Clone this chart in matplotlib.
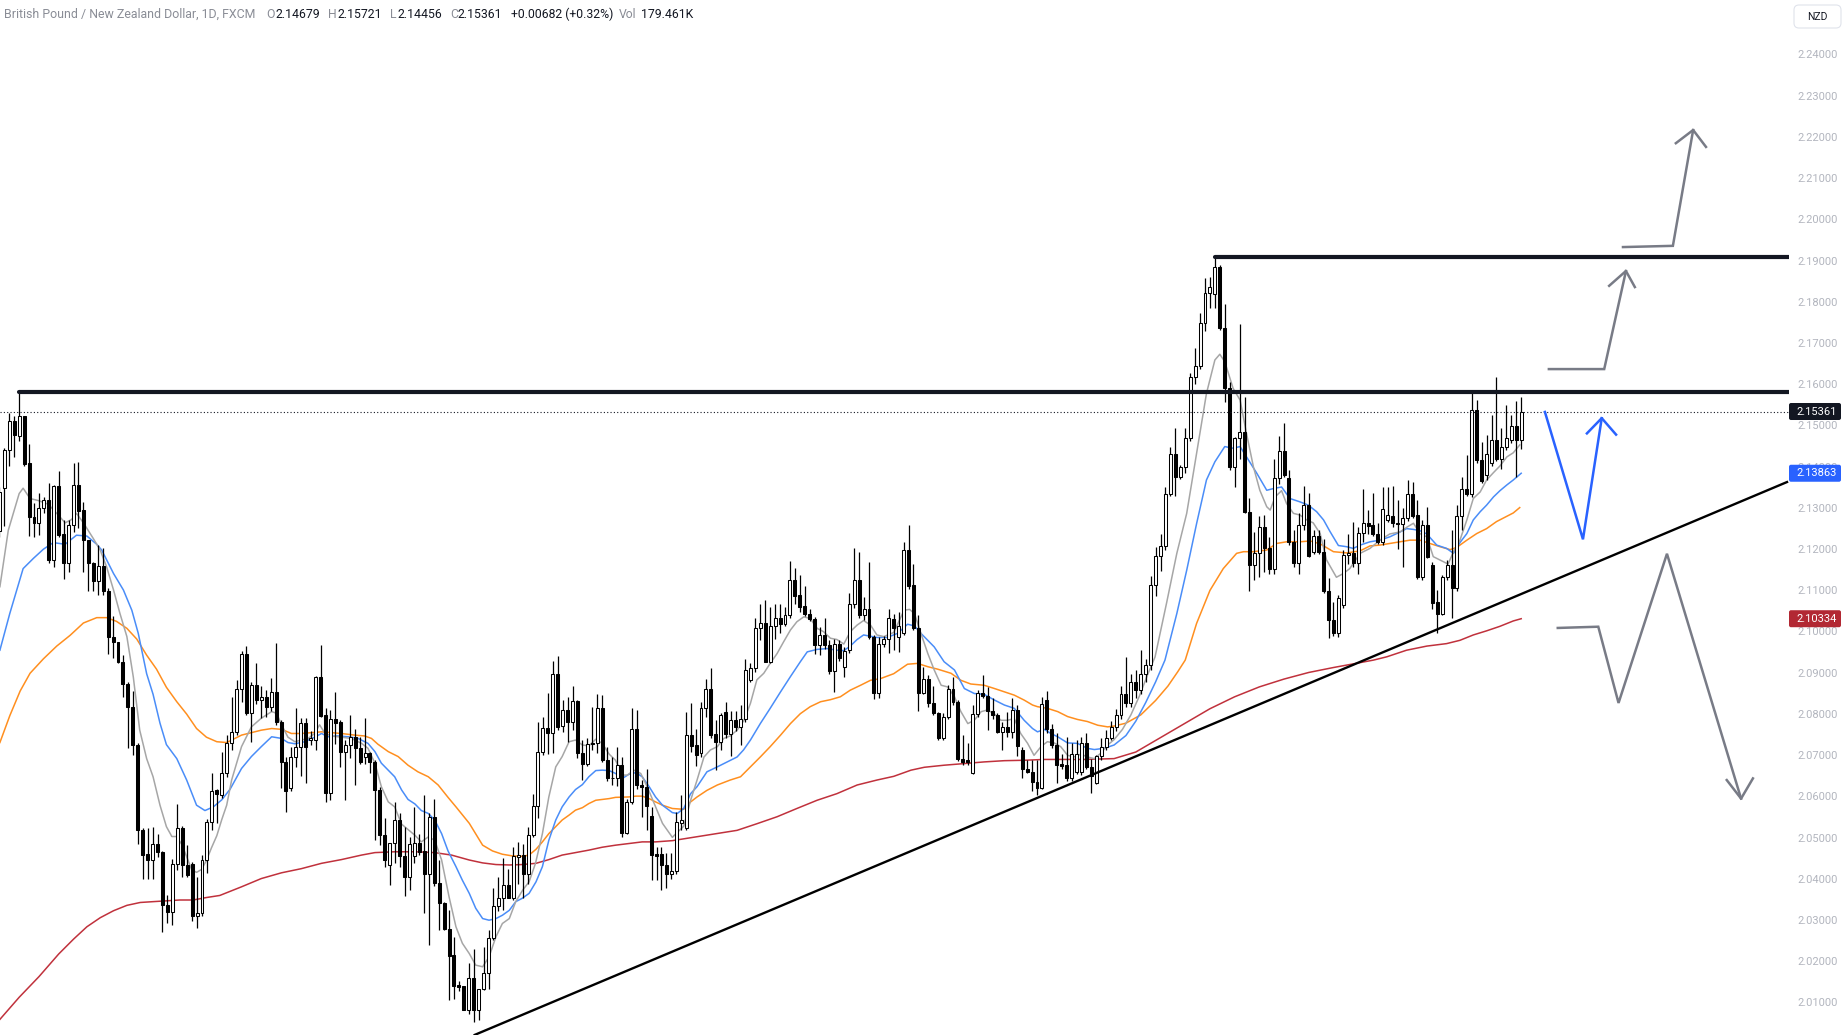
import numpy as np
import matplotlib
matplotlib.use("Agg")
import matplotlib.pyplot as plt
from matplotlib.patches import FancyBboxPatch
from matplotlib.transforms import IdentityTransform

# ---------------- data ----------------
opens = [2.1245,2.1351,2.1442,2.1513,2.1476,2.1524,2.1411,2.1281,2.1266,2.1303,
2.1321,2.1177,2.1355,2.1239,2.1168,2.1261,2.1358,2.1297,2.1224,2.1169,
2.1126,2.1161,2.1101,2.0988,2.0977,2.0929,2.0874,2.0819,2.0727,2.0522,
2.0462,2.0447,2.0486,2.0468,2.0340,2.0321,2.0438,2.0525,2.0435,2.0438,
2.0312,2.0319,2.0447,2.0540,2.0617,2.0606,2.0658,2.0731,2.0758,2.0862,
2.0948,2.0804,2.0873,2.0835,2.0844,2.0820,2.0855,2.0784,2.0686,2.0622,
2.0697,2.0721,2.0780,2.0740,2.0739,2.0891,2.0800,2.0611,2.0789,2.0782,
2.0711,2.0727,2.0746,2.0719,2.0697,2.0707,2.0686,2.0619,2.0508,2.0436,
2.0490,2.0546,2.0457,2.0407,2.0457,2.0490,2.0470,2.0414,2.0553,2.0393,
2.0344,2.0280,2.0217,2.0144,2.0142,2.0085,2.0161,2.0085,2.0134,2.0174,
2.0260,2.0336,2.0355,2.0387,2.0357,2.0456,2.0460,2.0415,2.0508,2.0579,
2.0711,2.0769,2.0755,2.0899,2.0773,2.0812,2.0784,2.0834,2.0707,2.0682,
2.0732,2.0731,2.0818,2.0690,2.0648,2.0646,2.0678,2.0514,2.0589,2.0765,
2.0630,2.0624,2.0555,2.0462,2.0462,2.0435,2.0415,2.0422,2.0537,2.0525,
2.0751,2.0727,2.0708,2.0816,2.0862,2.0753,2.0735,2.0806,2.0753,2.0787,
2.0770,2.0791,2.0885,2.0913,2.1012,2.1024,2.0929,2.1015,2.1036,2.1020,
2.1042,2.1127,2.1091,2.1064,2.1045,2.1032,2.0969,2.0994,2.0969,2.0907,
2.0973,2.0917,2.0957,2.1069,2.1127,2.1042,2.1058,2.0990,2.0852,2.0973,
2.0985,2.1032,2.0990,2.0998,2.1200,2.1115,2.1010,2.0854,2.0886,2.0828,
2.0805,2.0743,2.0794,2.0862,2.0832,2.0692,2.0690,2.0658,2.0802,2.0852,
2.0846,2.0810,2.0800,2.0759,2.0770,2.0759,2.0812,2.0715,2.0670,2.0662,
2.0638,2.0622,2.0837,2.0765,2.0727,2.0680,2.0678,2.0648,2.0662,2.0662,
2.0732,2.0674,2.0635,2.0700,2.0721,2.0745,2.0771,2.0800,2.0850,2.0830,
2.0880,2.0860,2.0900,2.0920,2.1115,2.1185,2.1210,2.1337,2.1432,2.1378,
2.1402,2.1473,2.1619,2.1647,2.1750,2.1823,2.1821,2.1886,2.1738,2.1592,
2.1402,2.1471,2.1487,2.1293,2.1163,2.1193,2.1255,2.1204,2.1155,2.1374,
2.1441,2.1374,2.1220,2.1169,2.1260,2.1309,2.1196,2.1234,2.1196,2.1101,
2.1030,2.0998,2.1066,2.1188,2.1194,2.1169,2.1242,2.1265,2.1261,2.1240,
2.1220,2.1274,2.1282,2.1265,2.1263,2.1277,2.1337,2.1285,2.1134,2.1260,
2.1164,2.1075,2.1046,2.1135,2.1164,2.1107,2.1282,2.1347,2.1337,2.1540,
2.1418,2.1382,2.1410,2.1467,2.1420,2.1449,2.1468,2.1501,2.14679]
highs = [2.1352,2.1448,2.1533,2.1526,2.1583,2.1526,2.1458,2.1313,2.1339,2.1329,
2.1362,2.1357,2.1392,2.1273,2.1273,2.1410,2.1414,2.1317,2.1224,2.1171,
2.1212,2.1204,2.1107,2.1040,2.0977,2.0945,2.0880,2.0858,2.0733,2.0525,
2.0525,2.0527,2.0512,2.0470,2.0364,2.0451,2.0583,2.0531,2.0484,2.0442,
2.0408,2.0460,2.0548,2.0659,2.0620,2.0710,2.0751,2.0844,2.0885,2.0954,
2.0966,2.0881,2.0925,2.0869,2.0860,2.0889,2.0974,2.0788,2.0699,2.0723,
2.0816,2.0792,2.0792,2.0760,2.0894,2.0970,2.0816,2.0812,2.0855,2.0788,
2.0739,2.0800,2.0767,2.0747,2.0792,2.0711,2.0690,2.0626,2.0549,2.0490,
2.0589,2.0561,2.0529,2.0503,2.0577,2.0512,2.0605,2.0561,2.0595,2.0448,
2.0346,2.0327,2.0262,2.0155,2.0142,2.0197,2.0233,2.0136,2.0237,2.0278,
2.0381,2.0407,2.0454,2.0427,2.0480,2.0492,2.0488,2.0529,2.0609,2.0783,
2.0795,2.0852,2.0932,2.0943,2.0836,2.0844,2.0870,2.0836,2.0739,2.0745,
2.0820,2.0851,2.0848,2.0723,2.0699,2.0723,2.0699,2.0597,2.0816,2.0812,
2.0642,2.0668,2.0577,2.0480,2.0480,2.0464,2.0464,2.0565,2.0605,2.0808,
2.0828,2.0765,2.0832,2.0886,2.0913,2.0787,2.0804,2.0832,2.0810,2.0810,
2.0824,2.0935,2.0925,2.1034,2.1069,2.1079,2.1063,2.1069,2.1069,2.1063,
2.1174,2.1156,2.1139,2.1113,2.1056,2.1038,2.1014,2.1034,2.0981,2.0983,
2.0981,2.0965,2.1096,2.1204,2.1196,2.1085,2.1172,2.0994,2.0990,2.0991,
2.1058,2.1046,2.1050,2.1220,2.1261,2.1167,2.1042,2.0917,2.0897,2.0870,
2.0808,2.0804,2.0872,2.0892,2.0836,2.0751,2.0731,2.0824,2.0860,2.0897,
2.0868,2.0840,2.0804,2.0783,2.0808,2.0840,2.0824,2.0723,2.0690,2.0690,
2.0690,2.0844,2.0858,2.0779,2.0755,2.0706,2.0747,2.0731,2.0739,2.0747,
2.0755,2.0694,2.0702,2.0745,2.0763,2.0786,2.0815,2.0870,2.0941,2.0900,
2.0910,2.0957,2.0935,2.1137,2.1208,2.1240,2.1354,2.1449,2.1495,2.1406,
2.1497,2.1629,2.1689,2.1776,2.1859,2.1863,2.1911,2.1891,2.1798,2.1608,
2.1475,2.1748,2.1572,2.1327,2.1244,2.1282,2.1285,2.1232,2.1422,2.1476,
2.1507,2.1394,2.1248,2.1289,2.1355,2.1339,2.1248,2.1248,2.1228,2.1131,
2.1075,2.1091,2.1200,2.1240,2.1269,2.1256,2.1347,2.1297,2.1339,2.1265,
2.1354,2.1354,2.1355,2.1321,2.1301,2.1370,2.1366,2.1321,2.1273,2.1305,
2.1172,2.1103,2.1139,2.1176,2.1248,2.1309,2.1378,2.1430,2.1588,2.1564,
2.1463,2.1479,2.1527,2.1621,2.1495,2.1552,2.1527,2.1562,2.15721]
lows = [2.1232,2.1259,2.1403,2.1426,2.1465,2.1405,2.1233,2.1232,2.1236,2.1289,
2.1168,2.1159,2.1232,2.1130,2.1147,2.1244,2.1253,2.1147,2.1101,2.1101,
2.1091,2.1091,2.0949,2.0937,2.0925,2.0843,2.0720,2.0702,2.0486,2.0401,
2.0401,2.0401,2.0456,2.0273,2.0295,2.0291,2.0425,2.0408,2.0408,2.0299,
2.0282,2.0312,2.0416,2.0520,2.0538,2.0598,2.0650,2.0715,2.0751,2.0832,
2.0800,2.0735,2.0827,2.0792,2.0796,2.0810,2.0775,2.0622,2.0565,2.0615,
2.0674,2.0652,2.0636,2.0728,2.0715,2.0796,2.0589,2.0593,2.0729,2.0673,
2.0593,2.0695,2.0630,2.0682,2.0682,2.0658,2.0496,2.0484,2.0432,2.0387,
2.0440,2.0432,2.0361,2.0375,2.0440,2.0460,2.0320,2.0241,2.0385,2.0278,
2.0278,2.0108,2.0112,2.0130,2.0083,2.0074,2.0055,2.0059,2.0132,2.0136,
2.0255,2.0325,2.0326,2.0355,2.0351,2.0391,2.0355,2.0391,2.0505,2.0549,
2.0703,2.0705,2.0707,2.0763,2.0759,2.0735,2.0763,2.0695,2.0642,2.0675,
2.0715,2.0707,2.0686,2.0640,2.0630,2.0627,2.0504,2.0512,2.0585,2.0620,
2.0553,2.0521,2.0400,2.0400,2.0375,2.0379,2.0403,2.0415,2.0520,2.0520,
2.0710,2.0676,2.0698,2.0796,2.0743,2.0666,2.0715,2.0745,2.0700,2.0762,
2.0727,2.0783,2.0880,2.0905,2.0982,2.0929,2.0925,2.0983,2.0998,2.1015,
2.1036,2.1070,2.1050,2.1040,2.1028,2.0949,2.0945,2.0960,2.0900,2.0856,
2.0930,2.0893,2.0950,2.1060,2.1036,2.1030,2.0983,2.0838,2.0842,2.0965,
2.0950,2.0957,2.0953,2.0994,2.1105,2.1005,2.0810,2.0850,2.0820,2.0800,
2.0740,2.0739,2.0790,2.0825,2.0688,2.0678,2.0678,2.0656,2.0795,2.0840,
2.0763,2.0791,2.0755,2.0715,2.0747,2.0743,2.0700,2.0646,2.0658,2.0616,
2.0605,2.0620,2.0757,2.0720,2.0634,2.0670,2.0640,2.0640,2.0656,2.0655,
2.0668,2.0611,2.0633,2.0690,2.0715,2.0740,2.0760,2.0790,2.0820,2.0820,
2.0840,2.0850,2.0880,2.0910,2.1088,2.1150,2.1200,2.1330,2.1331,2.1373,
2.1386,2.1465,2.1603,2.1640,2.1732,2.1786,2.1786,2.1734,2.1560,2.1395,
2.1352,2.1422,2.1290,2.1101,2.1127,2.1135,2.1147,2.1143,2.1143,2.1360,
2.1376,2.1212,2.1159,2.1143,2.1248,2.1183,2.1190,2.1190,2.1095,2.0986,
2.0991,2.0990,2.1060,2.1166,2.1160,2.1143,2.1220,2.1240,2.1235,2.1215,
2.1213,2.1269,2.1255,2.1203,2.1159,2.1270,2.1278,2.1130,2.1128,2.1180,
2.1058,2.0998,2.1042,2.1128,2.1034,2.1100,2.1248,2.1330,2.1329,2.1410,
2.1362,2.1370,2.1404,2.1415,2.1396,2.1443,2.1460,2.1378,2.14456]
closes = [2.1340,2.1442,2.1513,2.1478,2.1524,2.1409,2.1279,2.1266,2.1303,2.1321,
2.1177,2.1355,2.1236,2.1168,2.1261,2.1358,2.1295,2.1224,2.1168,2.1126,
2.1161,2.1101,2.0988,2.0977,2.0929,2.0874,2.0819,2.0727,2.0522,2.0460,
2.0447,2.0486,2.0468,2.0340,2.0321,2.0438,2.0525,2.0435,2.0412,2.0312,
2.0319,2.0447,2.0540,2.0616,2.0607,2.0658,2.0732,2.0758,2.0862,2.0948,
2.0804,2.0873,2.0835,2.0844,2.0820,2.0855,2.0784,2.0686,2.0616,2.0697,
2.0723,2.0780,2.0723,2.0745,2.0891,2.0797,2.0611,2.0789,2.0781,2.0711,
2.0727,2.0746,2.0719,2.0686,2.0707,2.0686,2.0619,2.0508,2.0448,2.0490,
2.0546,2.0457,2.0407,2.0486,2.0490,2.0468,2.0414,2.0553,2.0393,2.0344,
2.0280,2.0215,2.0142,2.0140,2.0085,2.0161,2.0085,2.0134,2.0174,2.0260,
2.0336,2.0355,2.0387,2.0357,2.0457,2.0460,2.0415,2.0508,2.0579,2.0711,
2.0769,2.0755,2.0899,2.0771,2.0812,2.0784,2.0834,2.0707,2.0682,2.0729,
2.0729,2.0818,2.0690,2.0646,2.0646,2.0678,2.0514,2.0589,2.0765,2.0630,
2.0624,2.0579,2.0460,2.0458,2.0435,2.0415,2.0422,2.0541,2.0546,2.0751,
2.0724,2.0702,2.0816,2.0862,2.0751,2.0735,2.0801,2.0753,2.0787,2.0770,
2.0791,2.0909,2.0913,2.1012,2.1024,2.0929,2.1015,2.1036,2.1020,2.1042,
2.1127,2.1089,2.1063,2.1045,2.1032,2.0969,2.0994,2.0969,2.0907,2.0973,
2.0937,2.0956,2.1069,2.1127,2.1042,2.1058,2.0990,2.0852,2.0973,2.0985,
2.1034,2.1012,2.1015,2.1200,2.1113,2.1010,2.0854,2.0886,2.0828,2.0805,
2.0743,2.0794,2.0862,2.0832,2.0692,2.0686,2.0686,2.0802,2.0852,2.0846,
2.0810,2.0801,2.0759,2.0770,2.0759,2.0812,2.0724,2.0670,2.0662,2.0638,
2.0622,2.0826,2.0765,2.0727,2.0678,2.0676,2.0646,2.0706,2.0706,2.0732,
2.0674,2.0651,2.0700,2.0721,2.0745,2.0771,2.0800,2.0850,2.0830,2.0880,
2.0860,2.0900,2.0920,2.1115,2.1185,2.1210,2.1337,2.1432,2.1378,2.1402,
2.1473,2.1619,2.1647,2.1750,2.1823,2.1837,2.1886,2.1738,2.1592,2.1402,
2.1471,2.1487,2.1293,2.1163,2.1193,2.1255,2.1204,2.1155,2.1374,2.1441,
2.1382,2.1220,2.1169,2.1260,2.1309,2.1185,2.1234,2.1196,2.1101,2.1030,
2.0998,2.1083,2.1188,2.1194,2.1168,2.1242,2.1265,2.1259,2.1240,2.1220,
2.1299,2.1285,2.1265,2.1263,2.1277,2.1337,2.1282,2.1134,2.1260,2.1184,
2.1072,2.1046,2.1135,2.1164,2.1107,2.1282,2.1347,2.1337,2.1540,2.1418,
2.1368,2.1434,2.1467,2.1422,2.1449,2.1473,2.1501,2.1467,2.15361]

# moving averages: (bar position, price)
gray_x = [0.1,1.8,4.0,4.8,6.2,7.9,9.9,11.9,13.3,14.6,15.6,17.0,19.0,20.4,21.7,23.1,24.4,25.8,27.1,28.4,29.8,31.1,32.5,33.8,34.9,35.9,36.9,37.9,38.9,39.9,40.9,41.9,42.9,44.0,45.0,46.0,
47.0,49.0,51.0,53.0,55.1,56.1,57.1,58.4,59.8,61.1,62.5,63.8,64.8,65.9,67.2,69.2,71.2,73.3,74.6,76.0,77.3,78.7,80.0,81.4,82.7,84.1,85.4,86.8,88.1,89.5,
91.0,92.4,93.7,95.1,96.4,97.8,99.1,100.5,101.8,103.2,104.5,105.9,107.2,108.5,109.9,111.2,112.6,113.9,115.3,116.6,118.0,119.3,120.7,122.0,123.4,124.7,126.1,127.1,128.4,129.8,131.1,132.8,134.2,136.2,
137.2,138.5,139.9,141.2,142.6,143.9,145.3,146.6,147.9,149.3,150.7,152.0,153.3,154.7,156.0,157.4,158.7,160.1,161.4,162.8,164.1,165.5,166.8,168.2,169.5,170.9,172.2,173.6,174.9,176.3,177.6,179.0,181.0,
183.1,184.2,185.2,186.5,187.9,189.2,190.6,191.9,193.3,194.6,196.0,197.3,198.7,200.0,201.4,202.7,204.0,205.4,206.7,208.1,209.4,210.8,212.1,213.5,214.8,216.2,217.5,218.9,220.2,221.6,222.9,224.3,225.6,
227.3,229.0,230.7,232.3,
233.9,236.2,238.3,240.3,242.3,244.3,246.0,247.0,248.0,249.7,251.1,252.4,253.8,255.1,256.5,257.2,258.2,259.5,260.5,261.9,263.2,264.6,265.9,267.3,268.6,270.6,272.0,273.3,275.4,277.4,279.4,281.4,283.5,284.8,286.2,287.5,288.9,290.2,292.2,293.2,294.3,295.6,297.0,298.3,299.7,301.0,302.4,303.7,305.1,306.4,307.7]
gray_y = [2.1111,2.1248,2.1337,2.1350,2.1325,2.1320,2.1311,2.1285,2.1266,2.1274,2.1289,2.1266,2.1228,2.1200,2.1159,2.1103,2.1046,2.0990,2.0892,2.0763,2.0694,2.0650,2.0581,2.0529,2.0505,2.0505,2.0486,2.0456,2.0425,2.0418,2.0425,2.0447,2.0477,2.0507,2.0546,2.0581,
2.0642,2.0723,2.0771,2.0792,2.0808,2.0804,2.0776,2.0746,2.0735,2.0739,2.0743,2.0755,2.0776,2.0755,2.0749,2.0746,2.0743,2.0731,2.0719,2.0683,2.0626,2.0589,2.0577,2.0535,2.0522,2.0508,2.0492,2.0504,2.0496,2.0448,
2.0359,2.0286,2.0246,2.0221,2.0193,2.0189,2.0213,2.0262,2.0294,2.0306,2.0347,2.0375,2.0395,2.0440,2.0512,2.0601,2.0674,2.0699,2.0735,2.0739,2.0727,2.0725,2.0741,2.0731,2.0705,2.0690,2.0654,2.0654,2.0666,2.0658,2.0626,2.0577,2.0537,2.0503,
2.0515,2.0530,2.0593,2.0642,2.0698,2.0715,2.0723,2.0743,2.0749,2.0763,2.0787,2.0828,2.0885,2.0901,2.0925,2.0949,2.0977,2.1006,2.1026,2.1038,2.1034,2.1010,2.1002,2.0986,2.0983,2.0972,2.1002,2.1018,2.1029,2.1018,2.0994,2.0990,2.1000,
2.1054,2.1056,2.1046,2.0998,2.0949,2.0909,2.0872,2.0868,2.0844,2.0808,2.0779,2.0787,2.0808,2.0812,2.0802,2.0787,2.0787,2.0791,2.0755,2.0731,2.0702,2.0723,2.0735,2.0732,2.0723,2.0702,2.0698,2.0705,2.0698,2.0694,2.0707,2.0727,2.0740,
2.0765,2.0800,2.0845,2.0895,
2.0941,2.1070,2.1192,2.1289,2.1434,2.1580,2.1661,2.1675,2.1657,2.1592,2.1564,2.1483,2.1402,2.1345,2.1305,2.1297,2.1329,2.1344,2.1313,2.1289,2.1285,2.1273,2.1266,2.1240,2.1176,2.1134,2.1143,2.1155,2.1192,2.1204,2.1224,2.1239,2.1244,2.1255,2.1265,2.1240,2.1232,2.1184,2.1172,2.1166,2.1196,2.1224,2.1273,2.1325,2.1341,2.1370,2.1388,2.1404,2.1426,2.1436,2.1455]

blue_x = [0.1,2.1,4.8,6.9,8.9,10.9,13.3,15.6,17.7,19.7,20.7,23.1,25.1,26.8,28.1,29.8,31.1,32.5,33.8,35.9,37.9,39.9,41.6,43.3,45.0,46.7,
49.0,51.0,53.0,55.1,57.1,58.4,59.8,61.8,63.8,65.2,66.5,68.5,70.6,72.6,74.6,76.0,77.3,78.7,80.0,81.4,82.7,84.1,85.4,86.8,88.1,89.5,90.8,
92.4,93.7,95.1,96.4,97.8,99.1,100.5,101.8,103.2,104.5,105.8,107.2,108.6,109.9,111.2,112.6,113.9,115.3,116.6,118.0,119.3,120.7,122.0,123.4,124.7,126.1,127.4,128.8,130.1,131.5,132.8,134.2,136.2,137.2,138.5,
139.9,141.2,143.2,145.3,147.3,149.3,150.6,152.0,154.0,156.0,158.1,160.1,162.1,163.5,165.5,167.5,169.5,170.9,172.2,173.6,174.9,176.3,177.6,179.7,181.8,183.8,185.2,186.5,189.2,191.2,193.3,195.3,197.3,199.3,201.4,203.4,205.4,207.4,209.1,210.1,211.5,212.8,214.2,216.2,218.2,220.2,221.6,223.6,225.6,
228.0,230.0,232.0,234.0,
235.9,238.3,240.3,242.3,244.3,246.0,248.0,249.7,251.1,252.4,254.5,256.5,257.8,259.5,261.2,263.2,264.9,266.6,268.0,269.3,271.0,272.7,274.0,275.4,277.4,279.4,281.4,283.5,284.8,286.2,287.5,288.9,290.9,292.9,294.3,295.6,297.0,298.3,299.7,301.0,302.4,303.7,305.1,306.4,308.0]
blue_y = [2.0957,2.1046,2.1155,2.1180,2.1202,2.1218,2.1214,2.1236,2.1234,2.1214,2.1200,2.1143,2.1103,2.1054,2.0998,2.0900,2.0850,2.0780,2.0728,2.0694,2.0642,2.0581,2.0568,2.0577,2.0594,2.0620,
2.0670,2.0699,2.0723,2.0747,2.0743,2.0733,2.0730,2.0735,2.0746,2.0755,2.0747,2.0749,2.0747,2.0743,2.0731,2.0711,2.0683,2.0666,2.0650,2.0618,2.0595,2.0584,2.0568,2.0561,2.0545,2.0512,2.0470,
2.0432,2.0399,2.0367,2.0331,2.0306,2.0302,2.0306,2.0314,2.0326,2.0347,2.0355,2.0367,2.0395,2.0432,2.0496,2.0545,2.0577,2.0601,2.0619,2.0631,2.0650,2.0665,2.0666,2.0665,2.0658,2.0646,2.0656,2.0660,2.0650,2.0626,2.0601,2.0581,2.0563,2.0561,2.0573,
2.0609,2.0626,2.0662,2.0674,2.0686,2.0698,2.0715,2.0739,2.0779,2.0816,2.0856,2.0893,2.0929,2.0953,2.0959,2.0961,2.0957,2.0956,2.0967,2.0983,2.0994,2.0991,2.0988,2.0988,2.0998,2.1020,2.1016,2.0998,2.0965,2.0929,2.0909,2.0864,2.0852,2.0850,2.0836,2.0824,2.0816,2.0787,2.0767,2.0759,2.0765,2.0755,2.0747,2.0732,2.0731,2.0719,2.0716,2.0719,2.0727,
2.0750,2.0785,2.0830,2.0880,
2.0933,2.1046,2.1151,2.1264,2.1370,2.1414,2.1451,2.1447,2.1451,2.1426,2.1386,2.1345,2.1349,2.1353,2.1325,2.1317,2.1309,2.1293,2.1273,2.1245,2.1211,2.1208,2.1204,2.1212,2.1220,2.1224,2.1232,2.1244,2.1252,2.1250,2.1247,2.1239,2.1212,2.1204,2.1192,2.1218,2.1240,2.1273,2.1293,2.1309,2.1329,2.1344,2.1358,2.1370,2.13863]

orange_x = [0.1,2.1,4.2,6.2,8.9,11.6,14.3,17.0,19.7,21.7,23.7,25.8,27.8,29.8,31.8,33.8,35.9,37.9,39.9,41.9,44.0,46.0,49.0,51.0,53.0,55.1,57.1,59.1,61.1,63.2,65.2,67.2,69.2,71.9,73.9,75.3,76.6,78.7,80.7,82.7,84.7,86.8,88.8,90.8,
92.4,95.1,97.8,99.8,101.8,103.8,105.8,107.2,108.6,109.9,111.2,112.6,113.9,115.3,116.6,118.0,119.3,120.7,122.0,123.4,124.7,127.4,128.8,130.1,131.5,132.8,134.2,136.2,138.5,139.9,141.2,143.2,145.3,147.9,150.0,152.0,154.0,156.0,158.1,160.1,162.1,164.1,166.2,168.2,170.2,172.2,174.3,176.3,178.3,181.0,
183.8,185.8,187.9,189.9,192.6,194.6,196.6,199.3,201.4,203.4,205.4,207.4,209.1,210.1,212.1,214.2,216.2,218.2,220.2,222.3,224.3,225.6,
228.0,231.0,234.0,236.5,238.5,
240.0,242.3,245.0,247.7,250.4,251.8,253.8,256.5,258.5,260.5,263.2,265.3,267.3,270.0,272.7,275.4,277.4,279.4,281.4,283.5,285.5,287.5,289.5,291.6,293.6,294.9,297.0,299.0,301.0,303.0,305.1,306.4,307.7]
orange_y = [2.0733,2.0798,2.0858,2.0901,2.0936,2.0967,2.0993,2.1023,2.1036,2.1036,2.1027,2.1010,2.0984,2.0945,2.0911,2.0867,2.0832,2.0802,2.0767,2.0746,2.0735,2.0733,2.0751,2.0757,2.0763,2.0767,2.0765,2.0755,2.0755,2.0757,2.0759,2.0757,2.0755,2.0751,2.0749,2.0743,2.0729,2.0711,2.0699,2.0678,2.0662,2.0650,2.0630,2.0600,
2.0577,2.0537,2.0484,2.0470,2.0462,2.0458,2.0457,2.0460,2.0474,2.0492,2.0512,2.0529,2.0545,2.0557,2.0569,2.0575,2.0585,2.0593,2.0595,2.0597,2.0600,2.0601,2.0603,2.0603,2.0597,2.0589,2.0581,2.0573,2.0571,2.0589,2.0601,2.0617,2.0630,2.0642,2.0650,2.0674,2.0698,2.0723,2.0751,2.0779,2.0803,2.0820,2.0832,2.0837,2.0844,2.0860,2.0872,2.0884,2.0888,2.0900,
2.0923,2.0925,2.0917,2.0911,2.0901,2.0884,2.0875,2.0872,2.0864,2.0856,2.0848,2.0836,2.0824,2.0820,2.0816,2.0808,2.0796,2.0789,2.0784,2.0775,2.0771,2.0773,
2.0780,2.0800,2.0835,2.0870,2.0905,
2.0933,2.1022,2.1102,2.1155,2.1192,2.1196,2.1196,2.1200,2.1216,2.1220,2.1220,2.1222,2.1215,2.1196,2.1193,2.1198,2.1210,2.1212,2.1216,2.1220,2.1224,2.1224,2.1216,2.1208,2.1201,2.1206,2.1224,2.1240,2.1252,2.1269,2.1282,2.1290,2.1303]

red_x = [0,4,8,12,15.0,17.7,20.4,23.1,25.8,28.5,31.1,33.8,36.5,39.2,41.9,44.6,49.0,53.0,57.1,61.1,65.2,69.2,73.3,76.0,80.0,84.1,88.1,91.5,95.1,97.8,100.5,103.2,105.8,108.6,111.2,113.9,116.6,119.3,122.0,124.7,127.4,130.1,132.8,136.2,
149.3,153.3,157.4,161.4,165.5,169.5,173.6,177.6,181.0,184.5,187.2,191.2,195.3,199.3,203.4,207.4,211.5,215.5,219.6,225.6,
230,235,240,245,250,255,260,265,270,275,
278.1,280.8,284.8,288.9,292.9,295.6,298.3,301.0,303.7,306.4,308.0]
red_y = [2.0060,2.0115,2.0165,2.0220,2.0256,2.0286,2.0308,2.0325,2.0338,2.0345,2.0347,2.0349,2.0351,2.0351,2.0357,2.0362,2.0383,2.0403,2.0417,2.0427,2.0440,2.0449,2.0460,2.0466,2.0468,2.0468,2.0466,2.0460,2.0448,2.0441,2.0437,2.0436,2.0437,2.0440,2.0449,2.0460,2.0466,2.0472,2.0479,2.0484,2.0488,2.0492,2.0492,2.0495,
2.0520,2.0536,2.0553,2.0573,2.0593,2.0609,2.0630,2.0642,2.0651,2.0666,2.0673,2.0678,2.0682,2.0686,2.0689,2.0690,2.0692,2.0692,2.0692,2.0694,
2.0710,2.0745,2.0780,2.0815,2.0844,2.0868,2.0887,2.0903,2.0915,2.0926,
2.0933,2.0941,2.0957,2.0967,2.0973,2.0981,2.0994,2.1004,2.1015,2.1028,2.10334]

# drawn levels / trend line / projection arrows (bar position, price)
resistance_low = 2.1583
resistance_low_start = 4
resistance_high = 2.1911
resistance_high_start = 246
trend_x = [96.2, 361.8]
trend_y = [2.00238, 2.1365]
last_price = 2.15361
arrow_top_x = [328.6, 338.7, 342.8]
arrow_top_y = [2.1935, 2.1938, 2.2219]
arrow_top_head = [(339.3, 2.2187), (342.8, 2.2219), (345.4, 2.2178)]
arrow_mid_x = [313.6, 324.8, 329.2]
arrow_mid_y = [2.1639, 2.1639, 2.1877]
arrow_mid_head = [(325.8, 2.1841), (329.2, 2.1877), (331.0, 2.1838)]
arrow_blue_x = [312.8, 320.5, 324.3]
arrow_blue_y = [2.1535, 2.1226, 2.1520]
arrow_blue_head = [(321.3, 2.1483), (324.3, 2.1520), (327.2, 2.1480)]
arrow_down_x = [315.4, 323.6, 327.7, 337.5, 352.5]
arrow_down_y = [2.1011, 2.1014, 2.0829, 2.1191, 2.0597]
arrow_down_head = [(349.6, 2.0642), (352.5, 2.0597), (354.9, 2.0646)]

tick_values = [2.01 + 0.01 * k for k in range(24)]
tick_labels = ["%.5f" % v for v in tick_values]

header_title = "British Pound / New Zealand Dollar, 1D, FXCM"
header_parts = [("O", "2.14679"), ("H", "2.15721"), ("L", "2.14456"), ("C", "2.15361")]
header_change = "+0.00682 (+0.32%)"
header_vol = "179.461K"

# ---------------- drawing ----------------
W, H = 1847, 1035
PANE_W = 1789
FONT = ["Roboto", "DejaVu Sans"]
fig = plt.figure(figsize=(W / 100, H / 100), dpi=100)
fig.patch.set_facecolor("white")
ax = fig.add_axes([0, 0, PANE_W / W, 1])
ax.set_xlim(0.12, 362.2)
ax.set_ylim(2.00235, 2.25344)
ax.axis("off")

o = np.array(opens); h = np.array(highs); l = np.array(lows); c = np.array(closes)
xs = np.arange(len(o))
up = c >= o
ax.vlines(xs, l, h, color="#000000", lw=0.9, zorder=3)
bottoms = np.minimum(o, c)
heights = np.maximum(np.abs(c - o), 0.00012)
ax.bar(xs, heights, width=0.6, bottom=bottoms,
       color=np.where(up, "white", "black"), edgecolor="black",
       linewidth=0.75, zorder=4)

ax.plot(red_x, red_y, color="#C0313C", lw=1.1, zorder=2)
ax.plot(orange_x, orange_y, color="#FF8F1F", lw=1.1, zorder=2)
ax.plot(blue_x, blue_y, color="#4A8DF8", lw=1.1, zorder=2)
ax.plot(gray_x, gray_y, color="#A6A6A6", lw=1.1, zorder=2)

ax.plot([resistance_low_start, 362.2], [resistance_low] * 2, color="#131722",
        lw=3.0, solid_capstyle="round", zorder=6)
ax.plot([resistance_high_start, 362.2], [resistance_high] * 2, color="#131722",
        lw=3.0, solid_capstyle="round", zorder=6)
ax.plot(trend_x, trend_y, color="#000000", lw=1.7, zorder=6)
ax.axhline(last_price, color="#131722", lw=0.8, ls=(0, (1, 2)), zorder=5)

for px, py, head, col in [(arrow_top_x, arrow_top_y, arrow_top_head, "#787B86"),
                          (arrow_mid_x, arrow_mid_y, arrow_mid_head, "#787B86"),
                          (arrow_blue_x, arrow_blue_y, arrow_blue_head, "#2962FF"),
                          (arrow_down_x, arrow_down_y, arrow_down_head, "#787B86")]:
    ax.plot(px, py, color=col, lw=1.8, solid_joinstyle="miter", zorder=6)
    ax.plot([p[0] for p in head], [p[1] for p in head], color=col, lw=1.8, zorder=6)

# ---------------- price scale ----------------
ident = IdentityTransform()

def ypix(price):
    return ax.transData.transform((0, price))[1]

for v, lab in zip(tick_values, tick_labels):
    fig.text(1797, ypix(v), lab, transform=ident, ha="left", va="center",
             fontsize=8, color="#B2B5BE", family=FONT)

for val, col in [(last_price, "#131722"), (2.13863, "#2962FF"), (2.10334, "#B22833")]:
    yc = ypix(val)
    fig.patches.append(FancyBboxPatch((1789, yc - 8.5), 52, 17, boxstyle="round,pad=0,rounding_size=2",
                                      transform=ident, fc=col, ec="none", zorder=10))
    fig.text(1796, yc, "%.5f" % val, transform=ident, ha="left", va="center",
             fontsize=8, color="white", family=FONT, zorder=11)

fig.patches.append(FancyBboxPatch((1794, H - 28), 47, 23, boxstyle="round,pad=0,rounding_size=5",
                                  transform=ident, fc="white", ec="#E0E3EB", lw=0.8, zorder=10))
fig.text(1817.5, H - 16.5, "NZD", transform=ident, ha="center", va="center",
         fontsize=7.5, color="#131722", family=FONT, zorder=11)

# ---------------- header ----------------
hy = H - 14
GRAYT = "#8A8D96"
DARK = "#131722"
fig.text(4, hy, header_title, transform=ident, ha="left", va="center", fontsize=8.9, color=GRAYT, family=FONT)
pos = [(266, 275), (328, 337), (390, 397.5), (450, 457.5)]
for (lab, val), (xl, xv) in zip(header_parts, pos):
    fig.text(xl, hy, lab, transform=ident, ha="left", va="center", fontsize=8.8, color=GRAYT, family=FONT)
    fig.text(xv, hy, val, transform=ident, ha="left", va="center", fontsize=8.8, color=DARK, family=FONT)
fig.text(511, hy, header_change, transform=ident, ha="left", va="center", fontsize=8.8, color=DARK, family=FONT)
fig.text(619, hy, "Vol", transform=ident, ha="left", va="center", fontsize=8.8, color=GRAYT, family=FONT)
fig.text(641.5, hy, header_vol, transform=ident, ha="left", va="center", fontsize=8.8, color=DARK, family=FONT)

fig.savefig("out.png", dpi=100, facecolor="white")
